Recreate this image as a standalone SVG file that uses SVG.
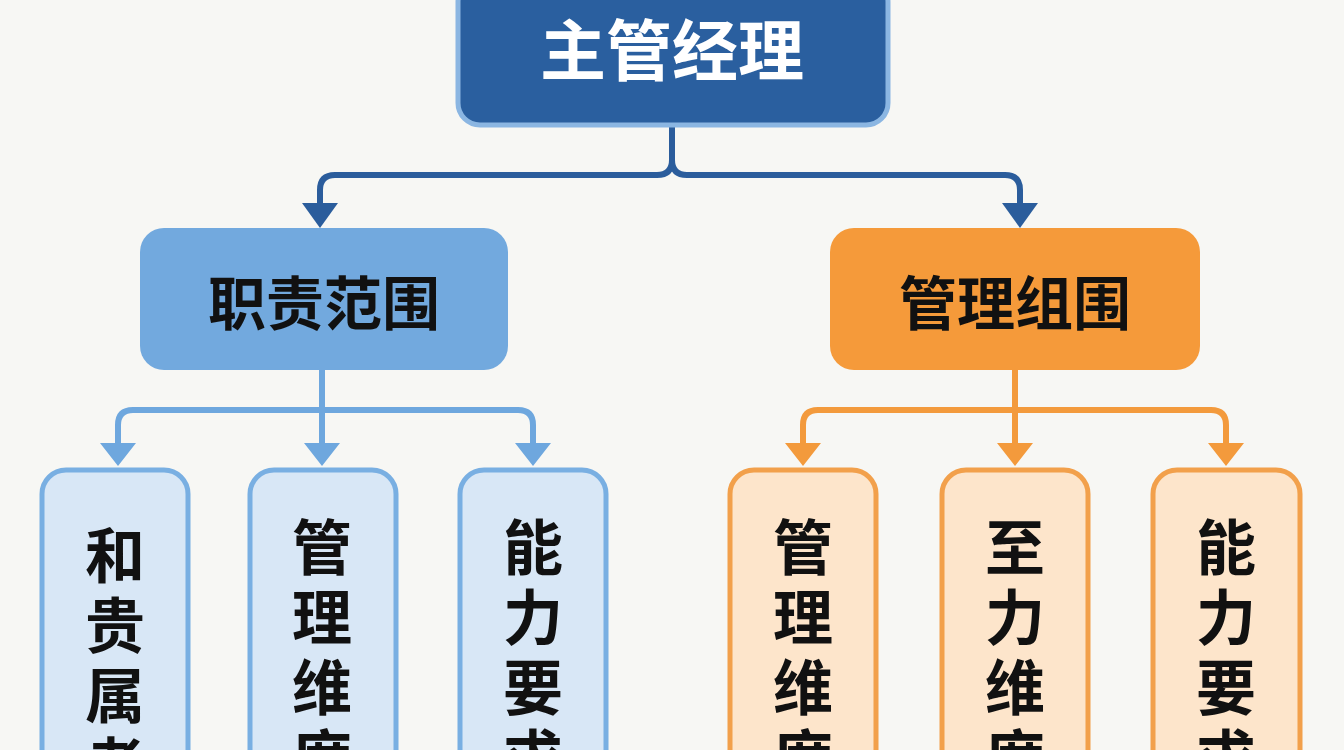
<svg xmlns="http://www.w3.org/2000/svg" width="1344" height="750" viewBox="0 0 1344 750">
<style>
.t{font-family:"Noto Sans CJK SC","Noto Sans",sans-serif;font-weight:700;text-anchor:middle}
.cb{fill:none;stroke:#2b5d9c;stroke-width:6;stroke-linejoin:round}
.cl{fill:none;stroke:#6ea7de;stroke-width:6;stroke-linejoin:round}
.co{fill:none;stroke:#f39a3c;stroke-width:6;stroke-linejoin:round}
.lb{fill:#d8e7f6;stroke:#79afe2;stroke-width:5}
.lo{fill:#fde5cb;stroke:#f2a04b;stroke-width:5}
</style>
<defs>
<marker id="ab" viewBox="0 0 10 10" refX="5" refY="8" markerWidth="6" markerHeight="5" orient="auto-start-reverse" markerUnits="strokeWidth"><path d="M0,0 L10,0 L5,10 Z" fill="#2b5d9c" transform="rotate(-90 5 5)"/></marker>
</defs>
<rect width="1344" height="750" fill="#f7f7f4"/>
<g id="connectors">
<path class="cb" d="M672,125 V160 Q672,175 657,175 H335 Q320,175 320,190 V205"/>
<path class="cb" d="M672,160 Q672,175 687,175 H1005 Q1020,175 1020,190 V205"/>
<path d="M302,203 L338,203 L320,228 Z" fill="#2b5d9c"/>
<path d="M1002,203 L1038,203 L1020,228 Z" fill="#2b5d9c"/>
<path class="cl" d="M322,370 V410 M118,445 V425 Q118,410 133,410 H518 Q533,410 533,425 V445 M322,410 V445"/>
<path d="M100,443 L136,443 L118,466 Z M304,443 L340,443 L322,466 Z M515,443 L551,443 L533,466 Z" fill="#6ea7de"/>
<path class="co" d="M1015,370 V410 M803,445 V425 Q803,410 818,410 H1211 Q1226,410 1226,425 V445 M1015,410 V445"/>
<path d="M785,443 L821,443 L803,466 Z M997,443 L1033,443 L1015,466 Z M1208,443 L1244,443 L1226,466 Z" fill="#f39a3c"/>
</g>
<g id="top"><rect x="458" y="-20" width="430" height="145" rx="22" fill="#2a5f9f" stroke="#8bb6e2" stroke-width="5"/><text class="t" x="672" y="75" font-size="66" fill="#fff">主管经理</text></g>
<g id="mid-left"><rect x="140" y="228" width="368" height="142" rx="24" fill="#72a9de"/><text class="t" x="324" y="325" font-size="58" fill="#111">职责范围</text></g>
<g id="mid-right"><rect x="830" y="228" width="370" height="142" rx="24" fill="#f59a3a"/><text class="t" x="1015" y="325" font-size="58" fill="#111">管理组围</text></g>
<g id="b1"><rect class="lb" x="42" y="470" width="146" height="320" rx="24"/><text class="t" font-size="60" fill="#111"><tspan x="115" y="578">和</tspan><tspan x="115" y="648">贵</tspan><tspan x="115" y="718">属</tspan><tspan x="115" y="788">者</tspan></text></g>
<g id="b2"><rect class="lb" x="250" y="470" width="146" height="320" rx="24"/><text class="t" font-size="60" fill="#111"><tspan x="322" y="570">管</tspan><tspan x="322" y="640">理</tspan><tspan x="322" y="710">维</tspan><tspan x="322" y="780">度</tspan></text></g>
<g id="b3"><rect class="lb" x="460" y="470" width="146" height="320" rx="24"/><text class="t" font-size="60" fill="#111"><tspan x="533" y="570">能</tspan><tspan x="533" y="640">力</tspan><tspan x="533" y="710">要</tspan><tspan x="533" y="780">求</tspan></text></g>
<g id="b4"><rect class="lo" x="730" y="470" width="146" height="320" rx="24"/><text class="t" font-size="60" fill="#111"><tspan x="803" y="570">管</tspan><tspan x="803" y="640">理</tspan><tspan x="803" y="710">维</tspan><tspan x="803" y="780">度</tspan></text></g>
<g id="b5"><rect class="lo" x="942" y="470" width="146" height="320" rx="24"/><text class="t" font-size="60" fill="#111"><tspan x="1015" y="570">至</tspan><tspan x="1015" y="640">力</tspan><tspan x="1015" y="710">维</tspan><tspan x="1015" y="780">度</tspan></text></g>
<g id="b6"><rect class="lo" x="1153" y="470" width="147" height="320" rx="24"/><text class="t" font-size="60" fill="#111"><tspan x="1226" y="570">能</tspan><tspan x="1226" y="640">力</tspan><tspan x="1226" y="710">要</tspan><tspan x="1226" y="780">求</tspan></text></g>
</svg>
